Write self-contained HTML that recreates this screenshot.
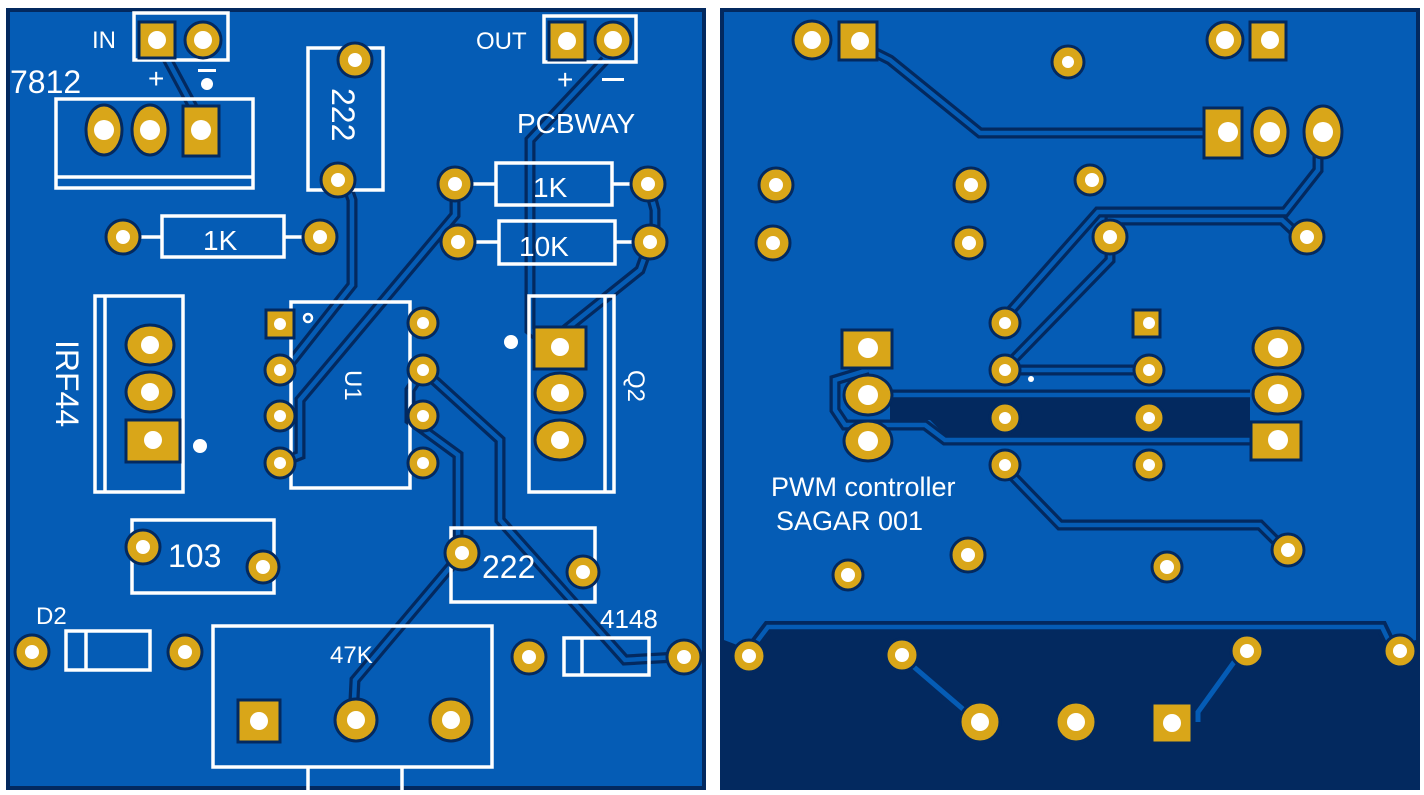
<!DOCTYPE html>
<html><head><meta charset="utf-8"><style>
html,body{margin:0;padding:0;background:#fff;width:1424px;height:795px;overflow:hidden}
svg{display:block}
text{font-family:"Liberation Sans","DejaVu Sans",sans-serif;fill:#fff}
.s{fill:none;stroke:#fff;stroke-width:3.5}
.tk{fill:none;stroke:#03295f;stroke-width:11;stroke-linejoin:miter}
.tb{fill:none;stroke:#055cb5;stroke-width:4.5;stroke-linejoin:miter}
.g{fill:#d9a619;stroke:#03295f;stroke-width:3}
.h{fill:#fff}
</style></head><body>
<svg width="1424" height="795" viewBox="0 0 1424 795">
<!-- LEFT BOARD -->
<rect x="6" y="8" width="700" height="782" fill="#03295f"/>
<rect x="10" y="12" width="692" height="774" fill="#055cb5"/>
<!-- traces left -->
<g>
<path class="tk" d="M157 40 L200 120"/>
<path class="tk" d="M605 60 L530 140 L530 330 L548 345"/>
<path class="tk" d="M345 180 L352 200 L352 285 L285 370"/>
<path class="tk" d="M455 184 L455 215 L300 400 L300 455 L280 463"/>
<path class="tk" d="M650 242 L640 270 L565 330"/>
<path class="tk" d="M423 370 L410 390 L410 420 L458 455 L458 540"/>
<path class="tk" d="M423 370 L500 440 L500 520 L625 660 L677 657"/>
<path class="tk" d="M462 553 L355 680 L353 720"/>
<path class="tk" d="M648 184 L655 210 L655 235"/>
<path class="tb" d="M157 40 L200 120"/>
<path class="tb" d="M605 60 L530 140 L530 330 L548 345"/>
<path class="tb" d="M345 180 L352 200 L352 285 L285 370"/>
<path class="tb" d="M455 184 L455 215 L300 400 L300 455 L280 463"/>
<path class="tb" d="M650 242 L640 270 L565 330"/>
<path class="tb" d="M423 370 L410 390 L410 420 L458 455 L458 540"/>
<path class="tb" d="M423 370 L500 440 L500 520 L625 660 L677 657"/>
<path class="tb" d="M462 553 L355 680 L353 720"/>
<path class="tb" d="M648 184 L655 210 L655 235"/>
</g>
<!-- silkscreen left -->
<rect class="s" x="134" y="13" width="94" height="47"/>
<text x="92" y="48" font-size="24">IN</text>
<text x="10" y="93" font-size="32">7812</text>
<text x="148" y="88" font-size="28">+</text>
<rect x="198" y="69" width="18" height="3" fill="#fff"/><circle cx="207" cy="84" r="6" fill="#fff"/>
<rect class="s" x="56" y="99" width="197" height="89"/>
<line class="s" x1="56" y1="177" x2="253" y2="177"/>
<rect class="s" x="308" y="48" width="75" height="142"/>
<text x="0" y="0" font-size="32" transform="translate(332,88) rotate(90)">222</text>
<rect class="s" x="162" y="216" width="122" height="41"/>
<line class="s" x1="140" y1="237" x2="162" y2="237"/><line class="s" x1="284" y1="237" x2="304" y2="237"/>
<text x="203" y="250" font-size="28">1K</text>
<rect class="s" x="496" y="163" width="116" height="42"/>
<line class="s" x1="472" y1="184" x2="496" y2="184"/><line class="s" x1="612" y1="184" x2="632" y2="184"/>
<text x="533" y="197" font-size="28">1K</text>
<rect class="s" x="499" y="221" width="116" height="43"/>
<line class="s" x1="475" y1="242" x2="499" y2="242"/><line class="s" x1="615" y1="242" x2="634" y2="242"/>
<text x="519" y="256" font-size="28">10K</text>
<text x="476" y="49" font-size="24">OUT</text>
<rect class="s" x="544" y="16" width="92" height="46"/>
<text x="557" y="89" font-size="28">+</text>
<rect x="602" y="78" width="22" height="3" fill="#fff"/>
<text x="517" y="133" font-size="28">PCBWAY</text>
<rect class="s" x="95" y="296" width="88" height="196"/>
<line class="s" x1="105" y1="296" x2="105" y2="492"/>
<text x="0" y="0" font-size="32" transform="translate(56,340) rotate(90)">IRF44</text>
<circle cx="200" cy="446" r="7" fill="#fff"/>
<rect class="s" x="291" y="302" width="119" height="186"/>
<circle cx="308" cy="318" r="4" fill="none" stroke="#fff" stroke-width="2.5"/>
<text x="0" y="0" font-size="24" transform="translate(345,370) rotate(90)">U1</text>
<rect class="s" x="529" y="296" width="85" height="196"/>
<line class="s" x1="605" y1="296" x2="605" y2="492"/>
<text x="0" y="0" font-size="24" transform="translate(628,370) rotate(90)">Q2</text>
<circle cx="511" cy="342" r="7" fill="#fff"/>
<rect class="s" x="132" y="520" width="142" height="73"/>
<text x="168" y="567" font-size="32">103</text>
<rect class="s" x="451" y="528" width="144" height="74"/>
<text x="482" y="578" font-size="32">222</text>
<text x="36" y="624" font-size="24">D2</text>
<rect class="s" x="66" y="631" width="84" height="39"/>
<line class="s" x1="86" y1="631" x2="86" y2="670"/>
<text x="600" y="628" font-size="26">4148</text>
<rect class="s" x="564" y="638" width="85" height="37"/>
<line class="s" x1="582" y1="638" x2="582" y2="675"/>
<rect class="s" x="213" y="626" width="279" height="141"/>
<line class="s" x1="308" y1="767" x2="308" y2="792"/><line class="s" x1="402" y1="767" x2="402" y2="792"/>
<text x="330" y="663" font-size="24">47K</text>
<!-- pads left -->
<g>
<rect class="g" x="139" y="22" width="36" height="36"/><circle class="g" cx="203" cy="40" r="18"/>
<ellipse class="g" cx="104" cy="130" rx="18" ry="25"/><ellipse class="g" cx="150" cy="130" rx="18" ry="25"/>
<rect class="g" x="183" y="106" width="36" height="50"/>
<circle class="g" cx="355" cy="60" r="17"/><circle class="g" cx="338" cy="180" r="17"/>
<circle class="g" cx="123" cy="237" r="17"/><circle class="g" cx="320" cy="237" r="17"/>
<circle class="g" cx="455" cy="184" r="17"/><circle class="g" cx="648" cy="184" r="17"/>
<circle class="g" cx="458" cy="242" r="17"/><circle class="g" cx="650" cy="242" r="17"/>
<rect class="g" x="549" y="22" width="36" height="38"/><circle class="g" cx="613" cy="40" r="18"/>
<ellipse class="g" cx="150" cy="345" rx="24" ry="20"/><ellipse class="g" cx="150" cy="392" rx="24" ry="20"/>
<rect class="g" x="126" y="420" width="54" height="42"/>
<rect class="g" x="266" y="310" width="28" height="28"/>
<circle class="g" cx="280" cy="370" r="15"/><circle class="g" cx="280" cy="416" r="15"/><circle class="g" cx="280" cy="463" r="15"/>
<circle class="g" cx="423" cy="323" r="15"/><circle class="g" cx="423" cy="370" r="15"/><circle class="g" cx="423" cy="416" r="15"/><circle class="g" cx="423" cy="463" r="15"/>
<rect class="g" x="534" y="327" width="52" height="42"/>
<ellipse class="g" cx="560" cy="393" rx="25" ry="20"/><ellipse class="g" cx="560" cy="440" rx="25" ry="20"/>
<circle class="g" cx="143" cy="547" r="17"/><circle class="g" cx="263" cy="567" r="16"/>
<circle class="g" cx="462" cy="553" r="17"/><circle class="g" cx="583" cy="572" r="16"/>
<circle class="g" cx="32" cy="652" r="17"/><circle class="g" cx="185" cy="652" r="17"/>
<circle class="g" cx="529" cy="657" r="17"/><circle class="g" cx="684" cy="657" r="17"/>
<rect class="g" x="238" y="700" width="42" height="42"/>
<circle class="g" cx="356" cy="720" r="21"/><circle class="g" cx="451" cy="720" r="21"/>
</g>
<g class="h">
<circle cx="157" cy="40" r="9"/><circle cx="203" cy="40" r="9"/>
<circle cx="104" cy="130" r="10"/><circle cx="150" cy="130" r="10"/><circle cx="201" cy="130" r="10"/>
<circle cx="355" cy="60" r="7"/><circle cx="338" cy="180" r="7"/>
<circle cx="123" cy="237" r="7"/><circle cx="320" cy="237" r="7"/>
<circle cx="455" cy="184" r="7"/><circle cx="648" cy="184" r="7"/>
<circle cx="458" cy="242" r="7"/><circle cx="650" cy="242" r="7"/>
<circle cx="567" cy="41" r="9"/><circle cx="613" cy="40" r="9"/>
<circle cx="150" cy="345" r="9"/><circle cx="150" cy="392" r="9"/><circle cx="153" cy="440" r="9"/>
<circle cx="280" cy="324" r="6"/><circle cx="280" cy="370" r="6"/><circle cx="280" cy="416" r="6"/><circle cx="280" cy="463" r="6"/>
<circle cx="423" cy="323" r="6"/><circle cx="423" cy="370" r="6"/><circle cx="423" cy="416" r="6"/><circle cx="423" cy="463" r="6"/>
<circle cx="560" cy="347" r="9"/><circle cx="560" cy="393" r="9"/><circle cx="560" cy="440" r="9"/>
<circle cx="143" cy="547" r="7"/><circle cx="263" cy="567" r="7"/>
<circle cx="462" cy="553" r="7"/><circle cx="583" cy="572" r="7"/>
<circle cx="32" cy="652" r="7"/><circle cx="185" cy="652" r="7"/>
<circle cx="529" cy="657" r="7"/><circle cx="684" cy="657" r="7"/>
<circle cx="259" cy="721" r="9"/><circle cx="356" cy="720" r="9"/><circle cx="451" cy="720" r="9"/>
</g>

<!-- RIGHT BOARD -->
<rect x="720" y="8" width="700" height="782" fill="#03295f"/>
<rect x="724" y="12" width="692" height="620" fill="#055cb5"/>
<!-- dark cutout zone -->
<path d="M890 393 L1250 393 L1250 440 L950 440 L930 420 L890 420 Z" fill="#03295f"/>
<!-- bottom boundary trace -->
<path d="M724 640 L745 648 L768 622 L1380 622 L1395 645 L1416 640 L1416 612 L724 612 Z" fill="#055cb5"/>
<g>
<path class="tk" d="M860 45 L890 60 L980 133 L1210 133"/>
<path class="tk" d="M1318 132 L1318 170 L1285 212 L1098 212 L1000 323"/>
<path class="tk" d="M1300 237 L1282 220 L1110 220 L1110 260 L1008 365"/>
<path class="tk" d="M1002 370 L1145 370"/>
<path class="tk" d="M868 370 L835 380 L835 410 L845 425 L925 425 L945 440 L1250 440"/>
<path class="tk" d="M1002 465 L1060 525 L1260 525 L1285 550"/>
<path class="tk" d="M868 395 L1250 395"/>
<path class="tb" d="M860 45 L890 60 L980 133 L1210 133"/>
<path class="tb" d="M1318 132 L1318 170 L1285 212 L1098 212 L1000 323"/>
<path class="tb" d="M1300 237 L1282 220 L1110 220 L1110 260 L1008 365"/>
<path class="tb" d="M1002 370 L1145 370"/>
<path class="tb" d="M868 370 L835 380 L835 410 L845 425 L925 425 L945 440 L1250 440"/>
<path class="tb" d="M1002 465 L1060 525 L1260 525 L1285 550"/>
<path class="tb" d="M868 395 L1250 395"/>
<path class="tk" d="M746 656 L768 627 L1382 627 L1393 650" style="stroke-width:12"/>
<path class="tb" d="M746 656 L768 627 L1382 627 L1393 650"/>
<path d="M900 655 L978 722 M1242 651 L1198 712 L1198 722" fill="none" stroke="#055cb5" stroke-width="5"/>
</g>
<text x="771" y="496" font-size="27">PWM controller</text>
<text x="776" y="530" font-size="27">SAGAR 001</text>
<g>
<circle class="g" cx="812" cy="57" r="19" transform="translate(0,-17)"/><rect class="g" x="839" y="22" width="38" height="38"/>
<circle class="g" cx="1068" cy="62" r="16"/>
<circle class="g" cx="1225" cy="40" r="18"/><rect class="g" x="1250" y="22" width="36" height="38"/>
<rect class="g" x="1204" y="108" width="38" height="50"/>
<ellipse class="g" cx="1270" cy="132" rx="18" ry="24"/><ellipse class="g" cx="1323" cy="132" rx="19" ry="26"/>
<circle class="g" cx="776" cy="185" r="17"/><circle class="g" cx="971" cy="185" r="17"/><circle class="g" cx="1090" cy="180" r="15"/>
<circle class="g" cx="773" cy="243" r="17"/><circle class="g" cx="969" cy="243" r="16"/>
<circle class="g" cx="1110" cy="237" r="17"/><circle class="g" cx="1307" cy="237" r="17"/>
<circle class="g" cx="1005" cy="323" r="15"/><rect class="g" x="1133" y="310" width="27" height="27"/>
<circle class="g" cx="1005" cy="370" r="15"/><circle class="g" cx="1149" cy="370" r="15"/>
<circle class="g" cx="1005" cy="418" r="15"/><circle class="g" cx="1149" cy="418" r="15"/>
<circle class="g" cx="1005" cy="465" r="15"/><circle class="g" cx="1149" cy="465" r="15"/>
<rect class="g" x="842" y="330" width="50" height="38"/>
<ellipse class="g" cx="868" cy="395" rx="24" ry="20"/><ellipse class="g" cx="868" cy="441" rx="24" ry="20"/>
<ellipse class="g" cx="1278" cy="348" rx="25" ry="20"/><ellipse class="g" cx="1278" cy="394" rx="25" ry="20"/>
<rect class="g" x="1251" y="422" width="50" height="38"/>
<circle class="g" cx="1288" cy="550" r="16"/>
<circle class="g" cx="968" cy="555" r="17"/><circle class="g" cx="848" cy="575" r="15"/><circle class="g" cx="1167" cy="567" r="15"/>
<circle class="g" cx="749" cy="656" r="16"/><circle class="g" cx="902" cy="655" r="16"/>
<circle class="g" cx="1247" cy="651" r="16"/><circle class="g" cx="1400" cy="651" r="16"/>
<circle class="g" cx="980" cy="722" r="20"/><circle class="g" cx="1076" cy="722" r="20"/>
<rect class="g" x="1152" y="703" width="40" height="40"/>
</g>
<g class="h">
<circle cx="812" cy="40" r="9"/><circle cx="860" cy="41" r="9"/><circle cx="1068" cy="62" r="6"/>
<circle cx="1225" cy="40" r="9"/><circle cx="1270" cy="40" r="9"/>
<circle cx="1228" cy="132" r="10"/><circle cx="1270" cy="132" r="10"/><circle cx="1323" cy="132" r="10"/>
<circle cx="776" cy="185" r="7"/><circle cx="971" cy="185" r="7"/><circle cx="1092" cy="180" r="7"/>
<circle cx="773" cy="243" r="7"/><circle cx="969" cy="243" r="7"/>
<circle cx="1110" cy="237" r="7"/><circle cx="1307" cy="237" r="7"/>
<circle cx="1005" cy="323" r="6"/><circle cx="1149" cy="323" r="6"/>
<circle cx="1005" cy="370" r="6"/><circle cx="1149" cy="370" r="6"/>
<circle cx="1005" cy="418" r="6"/><circle cx="1149" cy="418" r="6"/>
<circle cx="1005" cy="465" r="6"/><circle cx="1149" cy="465" r="6"/>
<circle cx="868" cy="348" r="10"/><circle cx="868" cy="395" r="10"/><circle cx="868" cy="441" r="10"/>
<circle cx="1278" cy="348" r="10"/><circle cx="1278" cy="394" r="10"/><circle cx="1278" cy="440" r="10"/>
<circle cx="1288" cy="550" r="7"/><circle cx="968" cy="555" r="7"/><circle cx="848" cy="575" r="7"/><circle cx="1167" cy="567" r="7"/>
<circle cx="749" cy="656" r="7"/><circle cx="902" cy="655" r="7"/><circle cx="1247" cy="651" r="7"/><circle cx="1400" cy="651" r="7"/>
<circle cx="980" cy="722" r="9"/><circle cx="1076" cy="722" r="9"/><circle cx="1172" cy="723" r="9"/>
<circle cx="1031" cy="379" r="3"/>
</g>
</svg>
</body></html>
